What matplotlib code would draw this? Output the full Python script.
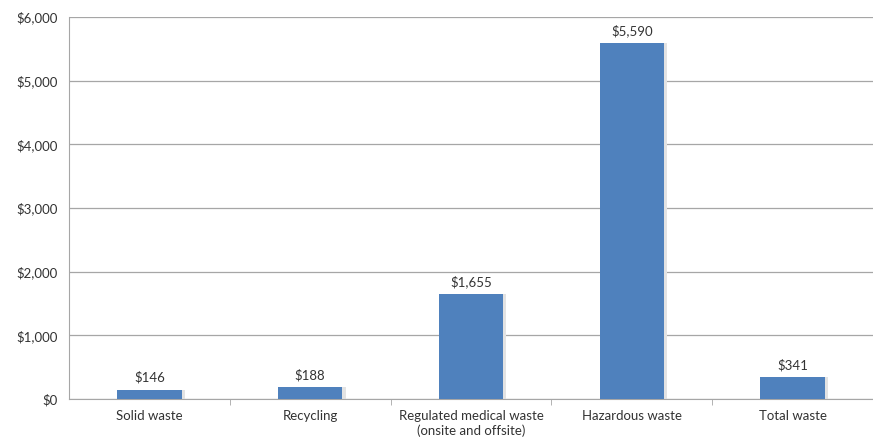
import matplotlib.pyplot as plt
import numpy as np

categories = ['Solid waste', 'Recycling', 'Regulated medical waste\n(onsite and offsite)',
              'Hazardous waste', 'Total waste']
costs = [146, 188, 1655, 5590, 341]
labels = ['$146', '$188', '$1,655', '$5,590', '$341']
yticks = [0, 1000, 2000, 3000, 4000, 5000, 6000]

plt.rcParams['font.family'] = ['Lato', 'DejaVu Sans']

fig = plt.figure(figsize=(8.73, 4.38), dpi=100)
ax = fig.add_axes([69 / 873, 1 - 399 / 438, 804 / 873, 382 / 438])

x = np.arange(len(categories))
# soft shadow behind the bars
ax.bar(x + 0.02, costs, width=0.40, color='#e3e3e3', zorder=2)
ax.bar(x, costs, width=0.40, color='#4f81bd', zorder=3)

for xi, v, lab in zip(x, costs, labels):
    ax.text(xi, v + 90, lab, ha='center', va='bottom', fontsize=9.5, color='#333333')

ax.set_xlim(-0.5, len(categories) - 0.5)
ax.set_ylim(0, 6000)
ax.set_yticks(yticks)
ax.set_yticklabels(['${:,}'.format(t) for t in yticks], fontsize=9.5, color='#333333')
ax.yaxis.grid(True, color='#a6a6a6', linewidth=0.9, zorder=0)
ax.tick_params(axis='y', length=0, pad=8)

ax.set_xticks(x)
ax.set_xticklabels(categories, fontsize=9.5, color='#333333')
ax.set_xticks(np.arange(len(categories) - 1) + 0.5, minor=True)
ax.tick_params(axis='x', which='major', length=0, pad=8)
ax.tick_params(axis='x', which='minor', length=4, color='#a6a6a6')

for side in ['top', 'right']:
    ax.spines[side].set_visible(False)
ax.spines['left'].set_color('#a6a6a6')
ax.spines['bottom'].set_color('#a6a6a6')

fig.savefig('out.png', dpi=100)
